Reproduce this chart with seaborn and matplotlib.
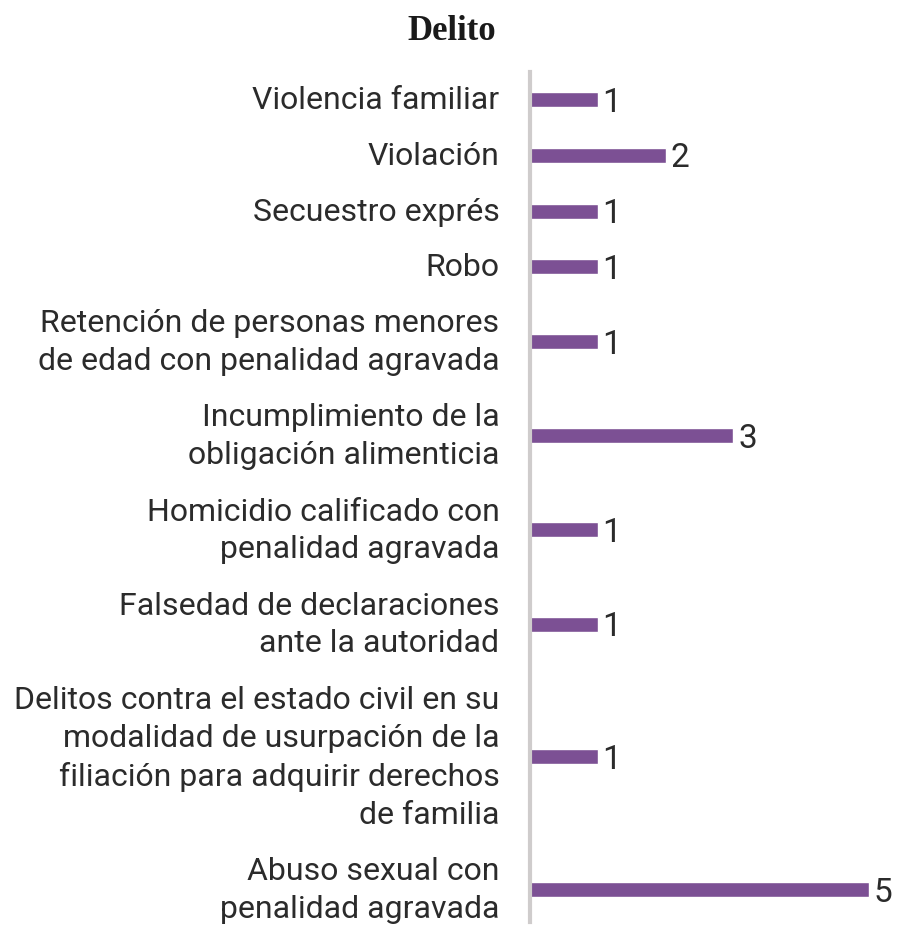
import matplotlib
matplotlib.use("Agg")
import matplotlib.pyplot as plt
import seaborn as sns
import pandas as pd
import numpy as np

categories = [
    "Violencia familiar",
    "Violación",
    "Secuestro exprés",
    "Robo",
    "Retención de personas menores\nde edad con penalidad agravada",
    "Incumplimiento de la\nobligación alimenticia",
    "Homicidio calificado con\npenalidad agravada",
    "Falsedad de declaraciones\nante la autoridad",
    "Delitos contra el estado civil en su\nmodalidad de usurpación de la\nfiliación para adquirir derechos\nde familia",
    "Abuso sexual con\npenalidad agravada",
]
values = [1, 2, 1, 1, 1, 3, 1, 1, 1, 5]
title = "Delito"

sns.set_theme(style="white")
plt.rcParams["font.family"] = ["Roboto", "DejaVu Sans"]

# row heights depend on number of label lines
lines = np.array([c.count("\n") + 1 for c in categories])
heights = 17 + 38.6 * lines
ends = np.cumsum(heights)
pos = ends - heights / 2.0

df = pd.DataFrame({"cat": categories, "val": values, "pos": pos})

fig = plt.figure(figsize=(9.01, 9.29), dpi=100)
ax = fig.add_axes([530 / 901, 1 - 923 / 929, (901 - 530) / 901, (923 - 73) / 929])

sns.barplot(data=df, x="val", y="pos", orient="y", native_scale=True,
            color="#7c5094", saturation=1, width=15 / 55.6, ax=ax)

ax.set_xlim(0, (901 - 530) / 67.8)
ax.set_ylim(850, 0)
ax.set_yticks(pos)
ax.set_yticklabels(categories, fontsize=23, color="#2b2b2b", fontweight="normal",
                   linespacing=1.38, va="center")
ax.tick_params(axis="y", length=0, pad=22)
ax.set_xticks([])
ax.set_xlabel("")
ax.set_ylabel("")
for s in ["top", "right", "bottom"]:
    ax.spines[s].set_visible(False)
ax.spines["left"].set_color("#cfcccc")
ax.spines["left"].set_linewidth(3)

for v, p in zip(values, pos):
    ax.text(v + 0.07, p + 2, str(v), va="center", ha="left", fontsize=24,
            color="#2b2b2b", fontweight="normal")

fig.text(452 / 901, 1 - 32 / 929, title, ha="center", va="center",
         fontsize=25, fontweight="bold", family=["Liberation Serif", "DejaVu Serif"],
         color="#1a1a1a")

fig.savefig("out.png", dpi=100, facecolor="white")
